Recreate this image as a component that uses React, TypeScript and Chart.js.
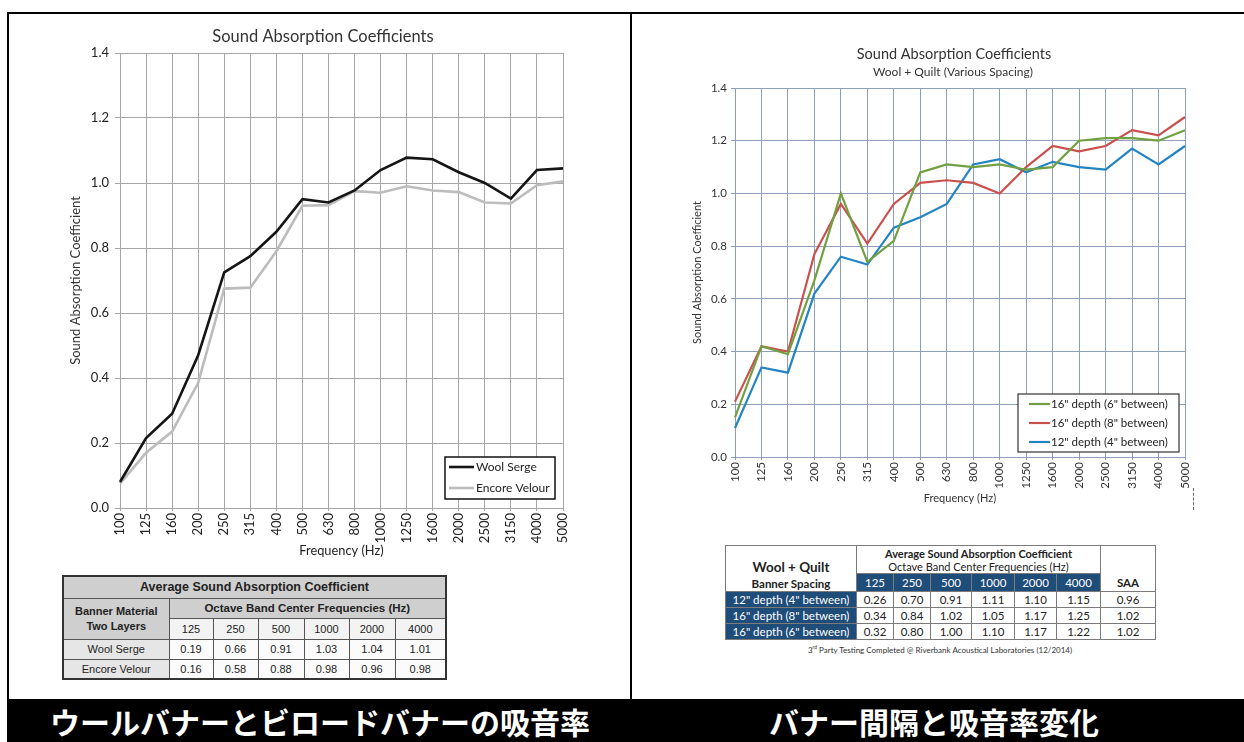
import React, { useEffect, useRef } from 'react';
import { Chart, registerables } from 'chart.js';

Chart.register(...registerables);

// ---------- data ----------
const frequencies = ['100', '125', '160', '200', '250', '315', '400', '500', '630', '800', '1000', '1250', '1600', '2000', '2500', '3150', '4000', '5000'];

const woolSerge = [0.08, 0.215, 0.29, 0.47, 0.725, 0.775, 0.85, 0.95, 0.94, 0.977, 1.04, 1.078, 1.073, 1.033, 1.0, 0.952, 1.04, 1.045];
const encoreVelour = [0.075, 0.17, 0.235, 0.385, 0.675, 0.678, 0.79, 0.93, 0.932, 0.975, 0.97, 0.99, 0.977, 0.972, 0.94, 0.937, 0.993, 1.005];

const depth16Gap6 = [0.15, 0.42, 0.39, 0.67, 1.0, 0.74, 0.82, 1.08, 1.11, 1.1, 1.11, 1.09, 1.1, 1.2, 1.21, 1.21, 1.2, 1.24];
const depth16Gap8 = [0.21, 0.42, 0.4, 0.77, 0.96, 0.81, 0.96, 1.04, 1.05, 1.04, 1.0, 1.1, 1.18, 1.16, 1.18, 1.24, 1.22, 1.29];
const depth12Gap4 = [0.11, 0.34, 0.32, 0.62, 0.76, 0.73, 0.87, 0.91, 0.96, 1.11, 1.13, 1.08, 1.12, 1.1, 1.09, 1.17, 1.11, 1.18];

const octaveFreqs = ['125', '250', '500', '1000', '2000', '4000'];
const woolSergeAvg = ['0.19', '0.66', '0.91', '1.03', '1.04', '1.01'];
const encoreVelourAvg = ['0.16', '0.58', '0.88', '0.98', '0.96', '0.98'];

const spacingLabels = ['12" depth (4" between)', '16" depth (8" between)', '16" depth (6" between)'];
const spacing12Gap4Avg = ['0.26', '0.70', '0.91', '1.11', '1.10', '1.15'];
const spacing16Gap8Avg = ['0.34', '0.84', '1.02', '1.05', '1.17', '1.25'];
const spacing16Gap6Avg = ['0.32', '0.80', '1.00', '1.10', '1.17', '1.22'];
const spacingSAA = ['0.96', '1.02', '1.02'];

const captionLeft = 'ウールバナーとビロードバナーの吸音率';
const captionRight = 'バナー間隔と吸音率変化';

// ---------- plugins ----------
const boxLegend = {
  id: 'boxLegend',
  afterDraw(chart: any, _args: any, opts: any) {
    const { ctx, chartArea } = chart;
    const x = chartArea.right - opts.offsetRight - opts.width;
    const y = chartArea.bottom - opts.offsetBottom - opts.height;
    ctx.save();
    ctx.fillStyle = '#ffffff';
    ctx.fillRect(x, y, opts.width, opts.height);
    ctx.strokeStyle = opts.borderColor;
    ctx.lineWidth = opts.borderWidth;
    ctx.strokeRect(x, y, opts.width, opts.height);
    chart.data.datasets.forEach((ds: any, i: number) => {
      const cy = y + opts.firstRow + i * opts.rowGap;
      ctx.strokeStyle = ds.borderColor;
      ctx.lineWidth = ds.borderWidth;
      ctx.beginPath();
      ctx.moveTo(x + opts.lineStart, cy);
      ctx.lineTo(x + opts.lineStart + opts.lineLen, cy);
      ctx.stroke();
      ctx.fillStyle = opts.color;
      ctx.font = opts.font;
      ctx.textBaseline = 'middle';
      ctx.textAlign = 'left';
      ctx.fillText(ds.label, x + opts.textStart, cy);
    });
    ctx.restore();
  },
};

const fixedTitles = {
  id: 'fixedTitles',
  afterDraw(chart: any, _args: any, opts: any) {
    const { ctx } = chart;
    ctx.save();
    (opts.items || []).forEach((it: any) => {
      ctx.font = it.font;
      ctx.fillStyle = it.color;
      ctx.textAlign = 'center';
      ctx.textBaseline = 'middle';
      ctx.fillText(it.text, it.x, it.y);
    });
    ctx.restore();
  },
};

// ---------- chart component ----------
function ChartBox({ left, top, width, height, config }: any) {
  const ref = useRef<HTMLCanvasElement | null>(null);
  useEffect(() => {
    if (!ref.current) return;
    const chart = new Chart(ref.current, config);
    return () => chart.destroy();
  }, []);
  return (
    <div style={{ position: 'absolute', left, top, width, height }}>
      <canvas ref={ref} width={width} height={height} style={{ width, height, display: 'block' }} />
    </div>
  );
}

const fmt1 = (v: any) => Number(v).toFixed(1);

const leftConfig: any = {
  type: 'line',
  data: {
    labels: frequencies,
    datasets: [
      { label: 'Wool Serge', data: woolSerge, borderColor: '#151515', borderWidth: 2.6, pointRadius: 0, tension: 0, fill: false },
      { label: 'Encore Velour', data: encoreVelour, borderColor: '#bcbcbc', borderWidth: 2.6, pointRadius: 0, tension: 0, fill: false },
    ],
  },
  options: {
    animation: false,
    responsive: false,
    devicePixelRatio: 1,
    layout: { padding: { top: 33, right: 57, bottom: 0, left: 0 } },
    plugins: {
      legend: { display: false },
      tooltip: { enabled: false },
      title: { display: false },
      boxLegend: {
        width: 110, height: 42, offsetRight: 8, offsetBottom: 9,
        borderColor: '#111', borderWidth: 1.5,
        firstRow: 10, rowGap: 21, lineStart: 4, lineLen: 25, textStart: 31,
        font: '12px Lato, "Noto Sans", sans-serif', color: '#222',
      },
      fixedTitles: {
        items: [{ text: 'Sound Absorption Coefficients', x: 303, y: 17, font: '16.5px Lato, "Noto Sans", sans-serif', color: '#333' }],
      },
    },
    scales: {
      x: {
        type: 'category',
        offset: false,
        grid: { color: '#a6a6a6', lineWidth: 1, tickLength: 3 },
        border: { color: '#a6a6a6' },
        ticks: { autoSkip: false, minRotation: 90, maxRotation: 90, padding: 2, color: '#222', font: { family: 'Lato', size: 13 } },
        title: { display: true, text: 'Frequency (Hz)', color: '#222', font: { family: 'Lato', size: 12.8 }, padding: { top: 0, bottom: 6.3 } },
        afterFit(s: any) { s.height = 57; },
      },
      y: {
        min: 0,
        max: 1.4,
        grid: { color: '#a6a6a6', lineWidth: 1, tickLength: 5 },
        border: { color: '#a6a6a6' },
        ticks: { stepSize: 0.2, callback: fmt1, padding: 6, color: '#222', font: { family: 'Lato', size: 13 } },
        title: { display: true, text: 'Sound Absorption Coefficient', color: '#333', font: { family: 'Lato', size: 13 }, padding: { top: 48, bottom: 0 } },
        afterFit(s: any) { s.width = 100; },
      },
    },
  },
  plugins: [boxLegend, fixedTitles],
};

const rightConfig: any = {
  type: 'line',
  data: {
    labels: frequencies,
    datasets: [
      { label: '16" depth (6" between)', data: depth16Gap6, borderColor: '#71a040', borderWidth: 2.2, pointRadius: 0, tension: 0, fill: false },
      { label: '16" depth (8" between)', data: depth16Gap8, borderColor: '#c9504c', borderWidth: 2.2, pointRadius: 0, tension: 0, fill: false },
      { label: '12" depth (4" between)', data: depth12Gap4, borderColor: '#2384c4', borderWidth: 2.2, pointRadius: 0, tension: 0, fill: false },
    ],
  },
  options: {
    animation: false,
    responsive: false,
    devicePixelRatio: 1,
    layout: { padding: { top: 53, right: 55, bottom: 0, left: 0 } },
    plugins: {
      legend: { display: false },
      tooltip: { enabled: false },
      title: { display: false },
      boxLegend: {
        width: 161, height: 58, offsetRight: 6, offsetBottom: 5,
        borderColor: '#333', borderWidth: 1.2,
        firstRow: 10, rowGap: 19, lineStart: 11, lineLen: 21, textStart: 33,
        font: '11.5px Lato, "Noto Sans", sans-serif', color: '#222',
      },
      fixedTitles: {
        items: [
          { text: 'Sound Absorption Coefficients', x: 314, y: 19, font: '14.5px Lato, "Noto Sans", sans-serif', color: '#333' },
          { text: 'Wool + Quilt (Various Spacing)', x: 313, y: 37, font: '12px Lato, "Noto Sans", sans-serif', color: '#333' },
        ],
      },
    },
    scales: {
      x: {
        type: 'category',
        offset: false,
        grid: { color: '#8e9fbc', lineWidth: 1, tickLength: 3 },
        border: { color: '#8e9fbc' },
        ticks: { autoSkip: false, minRotation: 90, maxRotation: 90, padding: 2, color: '#333', font: { family: 'Lato', size: 11.5 } },
        title: { display: true, text: 'Frequency (Hz)', color: '#333', font: { family: 'Lato', size: 11 }, padding: { top: 0, bottom: 5.4 } },
        afterFit(s: any) { s.height = 53; },
      },
      y: {
        min: 0,
        max: 1.4,
        grid: { color: '#8e9fbc', lineWidth: 1, tickLength: 4 },
        border: { color: '#8e9fbc' },
        ticks: { stepSize: 0.2, callback: fmt1, padding: 4, color: '#333', font: { family: 'Lato', size: 11.5 } },
        title: { display: true, text: 'Sound Absorption Coefficient', color: '#333', font: { family: 'Lato', size: 11 }, padding: { top: 50.4, bottom: 0 } },
        afterFit(s: any) { s.width = 95; },
      },
    },
  },
  plugins: [boxLegend, fixedTitles],
};

// ---------- tables ----------
const lcell: React.CSSProperties = { border: '1px solid #555', padding: 0, textAlign: 'center', verticalAlign: 'middle', overflow: 'hidden', whiteSpace: 'nowrap' };
const leftCols = [106, 44, 45, 46, 45, 46, 51];

function LeftTable() {
  return (
    <table style={{ position: 'absolute', left: 62, top: 575, width: 383, borderCollapse: 'collapse', tableLayout: 'fixed', fontFamily: '"Liberation Sans", Arial, sans-serif', fontSize: 11, color: '#222', border: '2px solid #333' }}>
      <colgroup>{leftCols.map((w, i) => <col key={i} style={{ width: w }} />)}</colgroup>
      <tbody>
        <tr style={{ height: 22 }}>
          <td colSpan={7} style={{ ...lcell, background: '#cfcfcf', fontWeight: 'bold', fontSize: 12.5 }}>Average Sound Absorption Coefficient</td>
        </tr>
        <tr style={{ height: 20 }}>
          <td rowSpan={2} style={{ ...lcell, background: '#cfcfcf', fontWeight: 'bold', lineHeight: '15px' }}>Banner Material<br />Two Layers</td>
          <td colSpan={6} style={{ ...lcell, background: '#cfcfcf', fontWeight: 'bold', fontSize: 11.5 }}>Octave Band Center Frequencies (Hz)</td>
        </tr>
        <tr style={{ height: 21 }}>
          {octaveFreqs.map((f) => <td key={f} style={{ ...lcell, background: '#f3f3f3' }}>{f}</td>)}
        </tr>
        <tr style={{ height: 20 }}>
          <td style={{ ...lcell, background: '#e6e6e6' }}>Wool Serge</td>
          {woolSergeAvg.map((v, i) => <td key={i} style={{ ...lcell, background: '#fbfbfb' }}>{v}</td>)}
        </tr>
        <tr style={{ height: 20 }}>
          <td style={{ ...lcell, background: '#e6e6e6' }}>Encore Velour</td>
          {encoreVelourAvg.map((v, i) => <td key={i} style={{ ...lcell, background: '#fbfbfb' }}>{v}</td>)}
        </tr>
      </tbody>
    </table>
  );
}

const navy = '#1f4d79';
const rcell: React.CSSProperties = { border: '1px solid #7a7a7a', padding: 0, textAlign: 'center', verticalAlign: 'middle', overflow: 'hidden', whiteSpace: 'nowrap' };
const rightCols = [131, 37, 37, 41, 43, 42, 44, 55];

function RightTable() {
  const rows = [spacing12Gap4Avg, spacing16Gap8Avg, spacing16Gap6Avg];
  return (
    <table style={{ position: 'absolute', left: 725, top: 545, width: 430, borderCollapse: 'collapse', tableLayout: 'fixed', fontFamily: 'Lato, "Noto Sans", sans-serif', fontSize: 11.5, color: '#222', border: '1px solid #555' }}>
      <colgroup>{rightCols.map((w, i) => <col key={i} style={{ width: w }} />)}</colgroup>
      <tbody>
        <tr style={{ height: 28 }}>
          <td rowSpan={2} style={{ ...rcell, verticalAlign: 'bottom', fontWeight: 'bold', background: '#fff' }}>
            <div style={{ fontSize: 13.5, lineHeight: '17px' }}>Wool + Quilt</div>
            <div style={{ fontSize: 11.5, lineHeight: '15px' }}>Banner Spacing</div>
          </td>
          <td colSpan={6} style={{ ...rcell, background: '#fff', fontSize: 11, lineHeight: '13px' }}>
            <div style={{ fontWeight: 'bold' }}>Average Sound Absorption Coefficient</div>
            <div>Octave Band Center Frequencies (Hz)</div>
          </td>
          <td rowSpan={2} style={{ ...rcell, background: '#fff', fontWeight: 'bold', verticalAlign: 'bottom', paddingBottom: 2 }}>SAA</td>
        </tr>
        <tr style={{ height: 18 }}>
          {octaveFreqs.map((f) => <td key={f} style={{ ...rcell, background: navy, color: '#fff' }}>{f}</td>)}
        </tr>
        {rows.map((r, ri) => (
          <tr key={ri} style={{ height: 16 }}>
            <td style={{ ...rcell, background: navy, color: '#fff', lineHeight: '15px' }}>{spacingLabels[ri]}</td>
            {r.map((v, i) => <td key={i} style={{ ...rcell, background: '#fff', lineHeight: '15px' }}>{v}</td>)}
            <td style={{ ...rcell, background: '#fff', lineHeight: '15px' }}>{spacingSAA[ri]}</td>
          </tr>
        ))}
      </tbody>
    </table>
  );
}

// ---------- app ----------
export default function App() {
  const capStyle: React.CSSProperties = {
    position: 'absolute', top: 701, height: 41, lineHeight: '41px', color: '#fff', textAlign: 'center',
    fontFamily: '"Noto Sans CJK JP", sans-serif', fontWeight: 'bold', fontSize: 30, whiteSpace: 'nowrap',
  };
  return (
    <div style={{ position: 'absolute', left: 0, top: 0, width: 1244, height: 742, background: '#fff', overflow: 'hidden' }}>
      <div style={{ position: 'absolute', left: 7, top: 12, width: 1237, height: 2, background: '#000' }} />
      <div style={{ position: 'absolute', left: 7, top: 12, width: 2, height: 690, background: '#000' }} />
      <div style={{ position: 'absolute', left: 630, top: 12, width: 2, height: 690, background: '#000' }} />

      <ChartBox left={20} top={20} width={600} height={545} config={leftConfig} />
      <ChartBox left={640} top={35} width={600} height={475} config={rightConfig} />

      <LeftTable />
      <RightTable />

      <div style={{ position: 'absolute', left: 725, top: 644, width: 430, textAlign: 'center', fontFamily: 'Lato, "Noto Sans", sans-serif', fontSize: 8, color: '#333', whiteSpace: 'nowrap' }}>
        3<sup style={{ fontSize: 5 }}>rd</sup> Party Testing Completed @ Riverbank Acoustical Laboratories (12/2014)
      </div>
      <div style={{ position: 'absolute', left: 1193, top: 488, height: 22, borderLeft: '1px dashed #666' }} />

      <div style={{ position: 'absolute', left: 7, top: 699, width: 1237, height: 43, background: '#000' }} />
      <div style={{ ...capStyle, left: 20, width: 600 }}>{captionLeft}</div>
      <div style={{ ...capStyle, left: 646, width: 576 }}>{captionRight}</div>
    </div>
  );
}
